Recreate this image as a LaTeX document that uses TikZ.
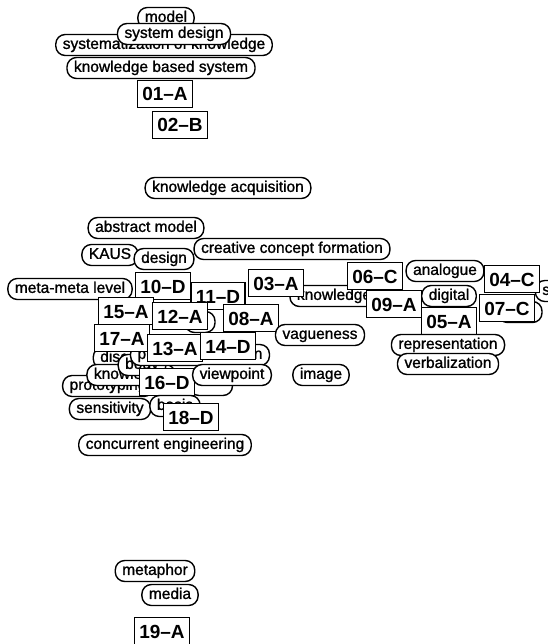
\documentclass[tikz,border=0pt]{standalone}
\usepackage{fontspec}
\setmainfont{Liberation Sans}
\newfontfamily\kwfont[FakeBold=1.2]{Liberation Sans}
\usetikzlibrary{positioning}
\tikzset{
  % keywords
  kw/.style={draw=black,fill=white,line width=1.4pt,rounded corners=9.5pt,
             minimum height=21pt,inner xsep=7pt,inner ysep=0pt,
             text height=11pt,text depth=3.2pt,
             font=\kwfont\fontsize{15.5}{16}\selectfont},
  hid/.style={kw,minimum width=#1},
  % documents
  doc/.style={draw=black,fill=white,line width=1.5pt,minimum height=27pt,
              inner xsep=5pt,inner ysep=0pt,text height=14pt,text depth=0pt,
              font=\bfseries\fontsize{19}{20}\selectfont},
}
\begin{document}
\begin{tikzpicture}[x=1pt,y=-1pt]
  \useasboundingbox[fill=white] (0,0) rectangle (547,644);
  % top group
  \node[kw] (systkn) at (164,45) {systematization of knowledge};
  \node[kw] (model) at (166,18) {model};
  \node[kw] (sysdes) at (174,34) {system design};
  \node[kw] (kbs) at (161,68) {knowledge based system};
  \node[doc] (a01) at (165,94) {01--A};
  \node[doc] (b02) at (180,125) {02--B};
  % middle group
  \node[kw] (kacq) at (228,188) {knowledge acquisition};
  \node[kw] (absm) at (146,228) {abstract model};
  \node[kw] (kaus) at (110,255) {KAUS};
  \node[kw] (design) at (164,259) {design};
  \node[kw] (ccf) at (292,249) {creative concept formation};
  \node[kw] (meta) at (70,289) {meta-meta level};
  \node[kw] (knowa) at (334,296) {knowledge};
  \node[doc] (a03) at (276,283) {03--A};
  \node[doc] (c06) at (375,276) {06--C};
  \node[doc] (d11) at (218,296) {11--D};
  \node[doc] (d10) at (163,286) {10--D};
  \node[hid=30pt] (hidb) at (200,322) {};
  \node[doc] (a15) at (126,311) {15--A};
  \node[doc] (a12) at (180,316) {12--A};
  \node[doc] (a08) at (251,318) {08--A};
  \node[kw] (vague) at (320,335) {vagueness};
  % right group
  \node[kw] (anal) at (445,271) {analogue};
  \node[kw] (sense) at (563,291) {sense};
  \node[hid=44pt] (hidc) at (520,312) {};
  \node[doc] (c04) at (512,279) {04--C};
  \node[kw] (dig) at (449,296) {digital};
  \node[doc] (a09) at (394,304) {09--A};
  \node[doc] (a05) at (449,321) {05--A};
  \node[doc] (c07) at (507,308) {07--C};
  \node[kw] (repr) at (448,345) {representation};
  \node[kw] (verb) at (448,364) {verbalization};
  % lower left group
  \node[kw] (disc) at (133,358) {discovery};
  \node[kw] (proto) at (108,386) {prototyping};
  \node[kw] (know2) at (131,375) {knowledge};
  \node[kw] (body) at (142,365) {body};
  \node[kw] (probf) at (200,355) {problem formation};
  \node[doc] (a17) at (122,338) {17--A};
  \node[doc] (a13) at (175,348) {13--A};
  \node[doc] (d14) at (228,346) {14--D};
  \node[hid=43pt] (hidv) at (211,385) {};
  \node[doc] (d16) at (167,382) {16--D};
  \node[kw] (view) at (232,375) {viewpoint};
  \node[kw] (image) at (321,375) {image};
  \node[kw] (sens) at (110,409) {sensitivity};
  \node[kw] (basis) at (175,406) {basis};
  \node[doc] (d18) at (191,417) {18--D};
  \node[kw] (conc) at (165,445) {concurrent engineering};
  % bottom group
  \node[kw] (metaph) at (155,571) {metaphor};
  \node[kw] (media) at (170,595) {media};
  \node[doc] (a19) at (162,631) {19--A};
\end{tikzpicture}
\end{document}
